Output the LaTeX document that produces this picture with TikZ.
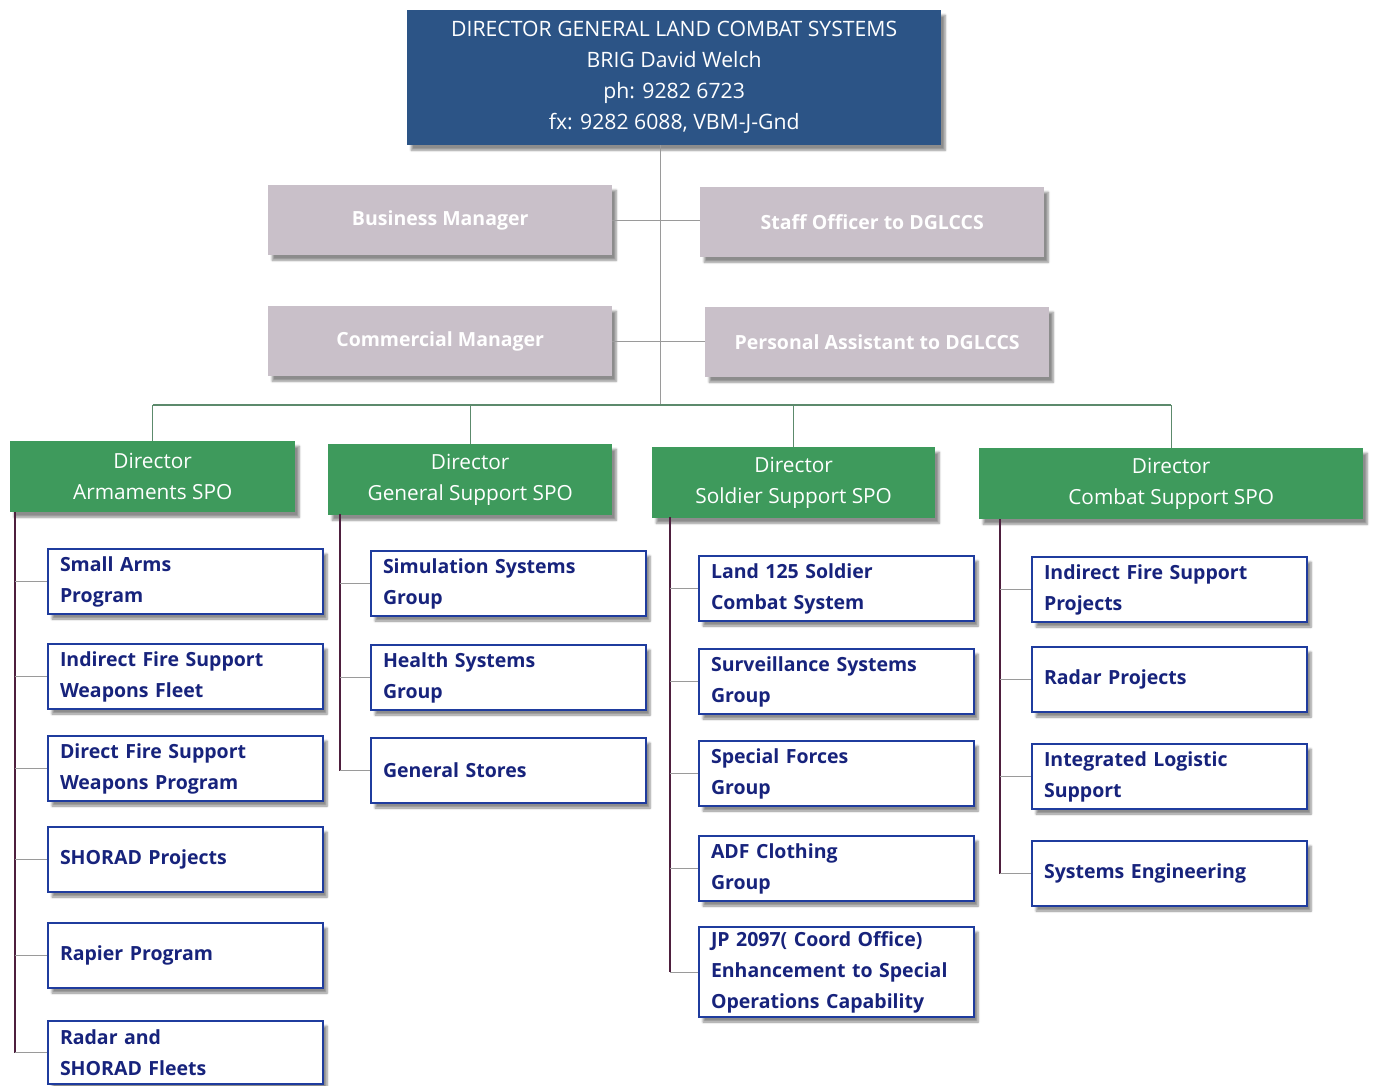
\documentclass[tikz,border=0pt]{standalone}
\usepackage{fontspec}
\setmainfont{Open Sans}
\usetikzlibrary{shadows.blur}
\definecolor{navy}{HTML}{2C5486}
\definecolor{lav}{HTML}{C9C0C9}
\definecolor{grn}{HTML}{3E9A5C}
\definecolor{kidblue}{HTML}{1F3C9E}
\definecolor{kidtext}{HTML}{17237C}
\definecolor{vl}{HTML}{4E1F3E}
\definecolor{hl}{HTML}{9A9A9A}
\definecolor{bus}{HTML}{5C8A6C}
\begin{document}
\begin{tikzpicture}[x=1pt,y=-1pt,
  box/.style={anchor=north west, inner sep=0pt,
    blur shadow={shadow xshift=4pt, shadow yshift=-5pt, shadow blur steps=6, shadow opacity=45}},
  topbox/.style={box, fill=navy, text=white, font=\fontsize{21.2}{31}\selectfont, align=center,
    minimum width=534pt, minimum height=135pt},
  graybox/.style={box, fill=lav, text=white, font=\bfseries\fontsize{19.5}{31}\selectfont,
    minimum width=344pt, minimum height=70pt},
  dirbox/.style={box, fill=grn, text=white, font=\fontsize{20.8}{31}\selectfont, align=center,
    minimum height=71pt},
  kid/.style={box, draw=kidblue, line width=2pt, fill=white, text=kidtext,
    font=\bfseries\fontsize{19.5}{31}\selectfont, inner xsep=12pt, text width=251pt,
    minimum height=65pt, align=left},
  tline/.style={draw=hl, line width=1pt},
  vline/.style={draw=vl, line width=1.3pt},
  hline/.style={draw=hl, line width=1pt},
  busline/.style={draw=bus, line width=1.3pt}
]
\useasboundingbox (0,0) rectangle (1374,1086);

% top
\node[topbox] (top) at (407,10) {DIRECTOR GENERAL LAND COMBAT SYSTEMS\\BRIG David Welch\\ph: 9282 6723\\fx: 9282 6088, VBM-J-Gnd};

% staff boxes
\node[graybox] (bm) at (268,185) {Business Manager};
\node[graybox] (so) at (700,187) {Staff Officer to DGLCCS};
\node[graybox] (cm) at (268,306) {Commercial Manager};
\node[graybox] (pa) at (705,307) {Personal Assistant to DGLCCS};

% directors
\node[dirbox, minimum width=285pt] (arm) at (10,441) {Director\\Armaments SPO};
\node[dirbox, minimum width=284pt] (gs) at (328,444) {Director\\General Support SPO};
\node[dirbox, minimum width=283pt] (ss) at (652,447) {Director\\Soldier Support SPO};
\node[dirbox, minimum width=384pt] (cs) at (979,448) {Director\\Combat Support SPO};

% connectors at top
\coordinate (busc) at (660,405);
\draw[tline] (top.south -| busc) -- (busc);
\draw[hline] (bm.east) -- (bm.east -| so.west);
\draw[hline] (cm.east) -- (cm.east -| pa.west);
\draw[busline] (arm.north |- busc) -- (cs.north |- busc);
\draw[busline] (arm.north |- busc) -- (arm.north);
\draw[busline] (gs.north |- busc) -- (gs.north);
\draw[busline] (ss.north |- busc) -- (ss.north);
\draw[busline] (cs.north |- busc) -- (cs.north);

% Armaments children
\node[kid] (a1) at (47,548) {Small Arms\\Program};
\node[kid] (a2) at (47,643) {Indirect Fire Support\\Weapons Fleet};
\node[kid] (a3) at (47,735) {Direct Fire Support\\Weapons Program};
\node[kid] (a4) at (47,826) {SHORAD Projects};
\node[kid] (a5) at (47,922) {Rapier Program};
\node[kid, minimum height=63pt] (a6) at (47,1020) {Radar and\\SHORAD Fleets};

% General Support children
\node[kid] (g1) at (370,550) {Simulation Systems\\Group};
\node[kid] (g2) at (370,644) {Health Systems\\Group};
\node[kid] (g3) at (370,737) {General Stores};

% Soldier Support children
\node[kid] (s1) at (698,555) {Land 125 Soldier\\Combat System};
\node[kid] (s2) at (698,648) {Surveillance Systems\\Group};
\node[kid] (s3) at (698,740) {Special Forces\\Group};
\node[kid] (s4) at (698,835) {ADF Clothing\\Group};
\node[kid, minimum height=90pt] (s5) at (698,926) {JP 2097( Coord Office)\\Enhancement to Special\\Operations Capability};

% Combat Support children
\node[kid] (c1) at (1031,556) {Indirect Fire Support\\Projects};
\node[kid] (c2) at (1031,646) {Radar Projects};
\node[kid] (c3) at (1031,743) {Integrated Logistic\\Support};
\node[kid] (c4) at (1031,840) {Systems Engineering};

% child connectors
\coordinate (armL) at (15,512);
\coordinate (gsL) at (340,514);
\coordinate (ssL) at (670,517);
\coordinate (csL) at (1000,519);
\draw[vline] (armL) -- (a6.west -| armL);
\draw[vline] (gsL) -- (g3.west -| gsL);
\draw[vline] (ssL) -- (s5.west -| ssL);
\draw[vline] (csL) -- (c4.west -| csL);
\foreach \k in {a1,a2,a3,a4,a5,a6} \draw[hline] (\k.west -| armL) -- (\k.west);
\foreach \k in {g1,g2,g3} \draw[hline] (\k.west -| gsL) -- (\k.west);
\foreach \k in {s1,s2,s3,s4,s5} \draw[hline] (\k.west -| ssL) -- (\k.west);
\foreach \k in {c1,c2,c3,c4} \draw[hline] (\k.west -| csL) -- (\k.west);
\end{tikzpicture}
\end{document}
